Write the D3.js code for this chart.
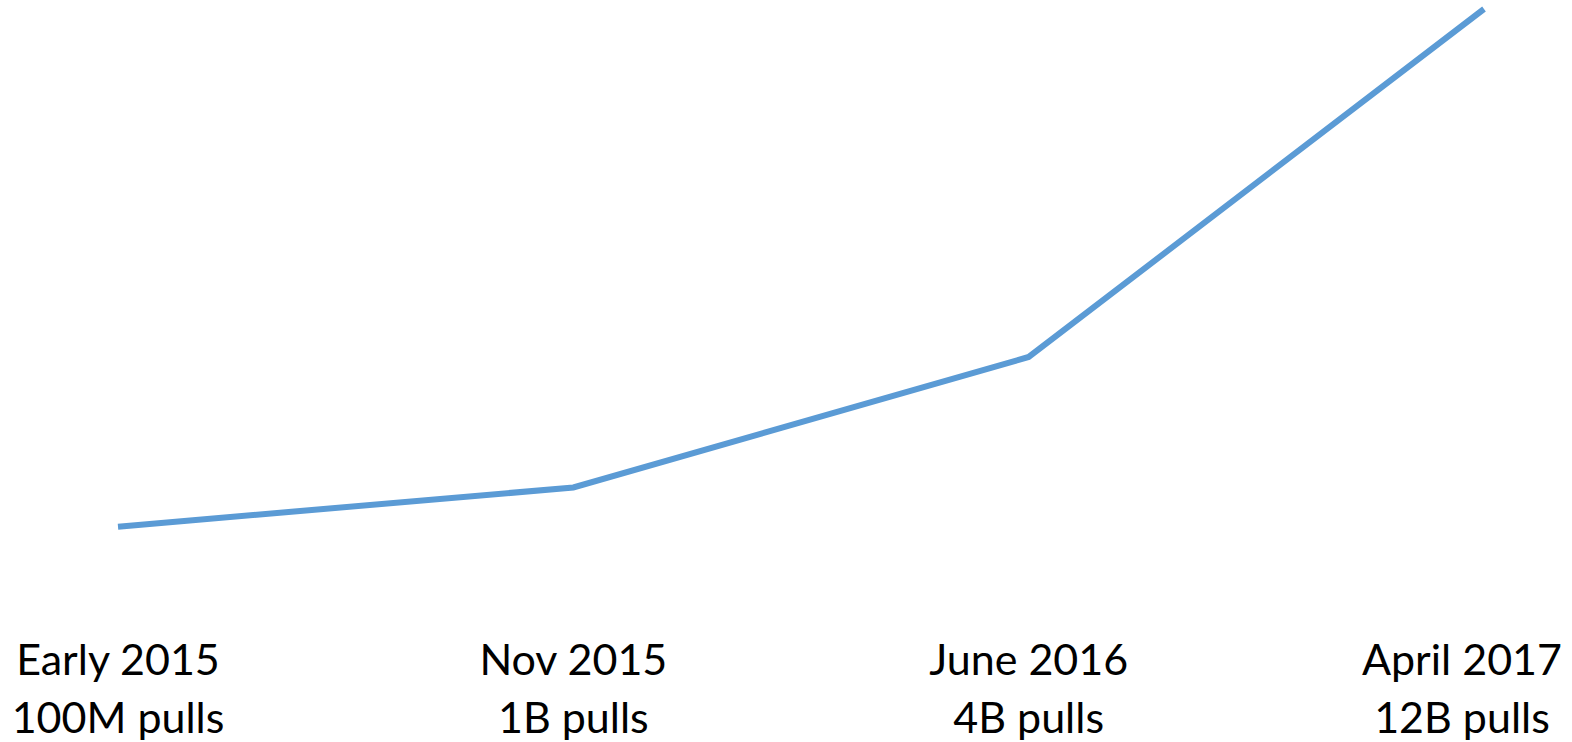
<!DOCTYPE html>
<html>
<head>
<meta charset="utf-8">
<script src="https://cdnjs.cloudflare.com/ajax/libs/d3/7.8.5/d3.min.js"></script>
<style>
  html, body { margin: 0; padding: 0; background: #fff; }
  svg { display: block; }
</style>
</head>
<body>
<svg></svg>
<script>
var width = 1572;
var height = 742;

// data
var dates = ["Early 2015", "Nov 2015", "June 2016", "April 2017"];
var pullLabels = ["100M pulls", "1B pulls", "4B pulls", "12B pulls"];
var pullsBillions = [0.1, 1, 4, 12];

var points = dates.map((d, i) => ({date: d, label: pullLabels[i], value: pullsBillions[i]}));

var xScale = d3.scalePoint()
    .domain(dates)
    .range([118, 1484]);

var yScale = d3.scaleLinear()
    .domain([0, 12])
    .range([531, 9]);

var svg = d3.select("svg")
    .attr("width", width)
    .attr("height", height);

// faint shadow in the top right corner
var defs = svg.append("defs");
var grad = defs.append("radialGradient")
    .attr("id", "shade")
    .attr("cx", "50%").attr("cy", "0%").attr("r", "50%");
grad.append("stop").attr("offset", "0%").attr("stop-color", "#eeeeee").attr("stop-opacity", 0.6);
grad.append("stop").attr("offset", "100%").attr("stop-color", "#ffffff").attr("stop-opacity", 0);

svg.append("ellipse")
    .attr("cx", 1390)
    .attr("cy", 0)
    .attr("rx", 220)
    .attr("ry", 55)
    .attr("fill", "url(#shade)");

var line = d3.line()
    .x(d => xScale(d.date))
    .y(d => yScale(d.value));

svg.append("path")
    .datum(points)
    .attr("d", line)
    .attr("fill", "none")
    .attr("stroke", "#5b9bd5")
    .attr("stroke-width", 6)
    .attr("stroke-linejoin", "miter");

var labels = svg.append("g")
    .attr("font-family", "Lato, 'Open Sans', sans-serif")
    .attr("font-size", 43)
    .attr("fill", "#000")
    .attr("text-anchor", "middle")
    .selectAll("text")
    .data(points)
    .enter()
    .append("text");

labels.append("tspan")
    .attr("y", 675)
    .text(d => d.date);

labels.append("tspan")
    .attr("y", 733)
    .text(d => d.label);

// keep labels inside the page
labels.each(function(d) {
    var w = 0;
    d3.select(this).selectAll("tspan").each(function() {
        w = Math.max(w, this.getComputedTextLength());
    });
    var half = w / 2;
    var x = Math.max(half + 10, Math.min(width - half - 10, xScale(d.date)));
    d3.select(this).selectAll("tspan").attr("x", x);
});
</script>
</body>
</html>
